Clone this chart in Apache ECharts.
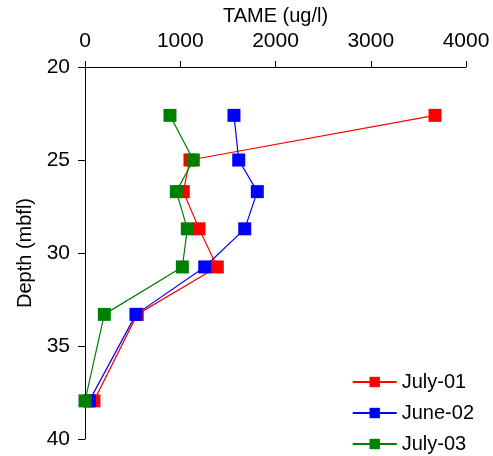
<!DOCTYPE html>
<html>
<head>
<meta charset="utf-8">
<script src="https://cdn.jsdelivr.net/npm/echarts@6/dist/echarts.min.js"></script>
<style>
  html, body { margin: 0; padding: 0; background: #fff; }
  #chart { width: 493px; height: 456px; }
</style>
</head>
<body>
<div id="chart"></div>
<script>
// depth (mbfl) of each sample, shared by all three campaigns
var depth = [22.6, 25.0, 26.7, 28.7, 30.75, 33.3, 37.95];
var july01 = [3675, 1102, 1032, 1197, 1389, 549, 94];
var june02 = [1564, 1614, 1809, 1677, 1257, 535, 45];
var july03 = [892, 1137, 959, 1074, 1022, 203, 0];
var xTicks = [0, 1000, 2000, 3000, 4000];

var font = "Liberation Sans, Arial, sans-serif";

function pairs(vals) {
  return vals.map(function (v, i) { return [v, depth[i]]; });
}

function mkSeries(name, vals, color) {
  return {
    name: name,
    type: "line",
    data: pairs(vals),
    symbol: "rect",
    symbolSize: 13,
    lineStyle: { color: color, width: 1.2 },
    itemStyle: { color: color },
    animation: false
  };
}

var myChart = echarts.init(document.getElementById("chart"));
var option = {
  backgroundColor: "#fff",
  grid: { left: 85, right: 27, top: 67, bottom: 17 },
  legend: {
    orient: "vertical",
    right: 14,
    bottom: -3,
    itemWidth: 44,
    itemHeight: 13,
    itemGap: 11,
    textStyle: { fontFamily: font, fontSize: 20, color: "#000" },
    data: ["July-01", "June-02", "July-03"]
  },
  xAxis: {
    type: "value",
    position: "top",
    min: xTicks[0],
    max: xTicks[xTicks.length - 1],
    interval: 1000,
    name: "TAME (ug/l)",
    nameLocation: "middle",
    nameGap: 38,
    nameTextStyle: { fontFamily: font, fontSize: 20, color: "#000" },
    axisLine: { show: true, lineStyle: { color: "#000", width: 1 } },
    axisTick: { show: true, length: 6, lineStyle: { color: "#000" } },
    axisLabel: {
      fontFamily: font, fontSize: 21, color: "#000", margin: 15,
      formatter: function (v) { return String(v); }
    },
    splitLine: { show: false }
  },
  yAxis: {
    type: "value",
    inverse: true,
    min: 20,
    max: 40,
    interval: 5,
    name: "Depth (mbfl)",
    nameLocation: "middle",
    nameGap: 47,
    nameTextStyle: { fontFamily: font, fontSize: 20, color: "#000" },
    axisLine: { show: true, lineStyle: { color: "#000", width: 1 } },
    axisTick: { show: true, length: 7, lineStyle: { color: "#000" } },
    axisLabel: { fontFamily: font, fontSize: 21, color: "#000", margin: 15 },
    splitLine: { show: false }
  },
  series: [
    mkSeries("July-01", july01, "#ff0000"),
    mkSeries("June-02", june02, "#0000ff"),
    mkSeries("July-03", july03, "#008000")
  ]
};
myChart.setOption(option);
</script>
</body>
</html>
